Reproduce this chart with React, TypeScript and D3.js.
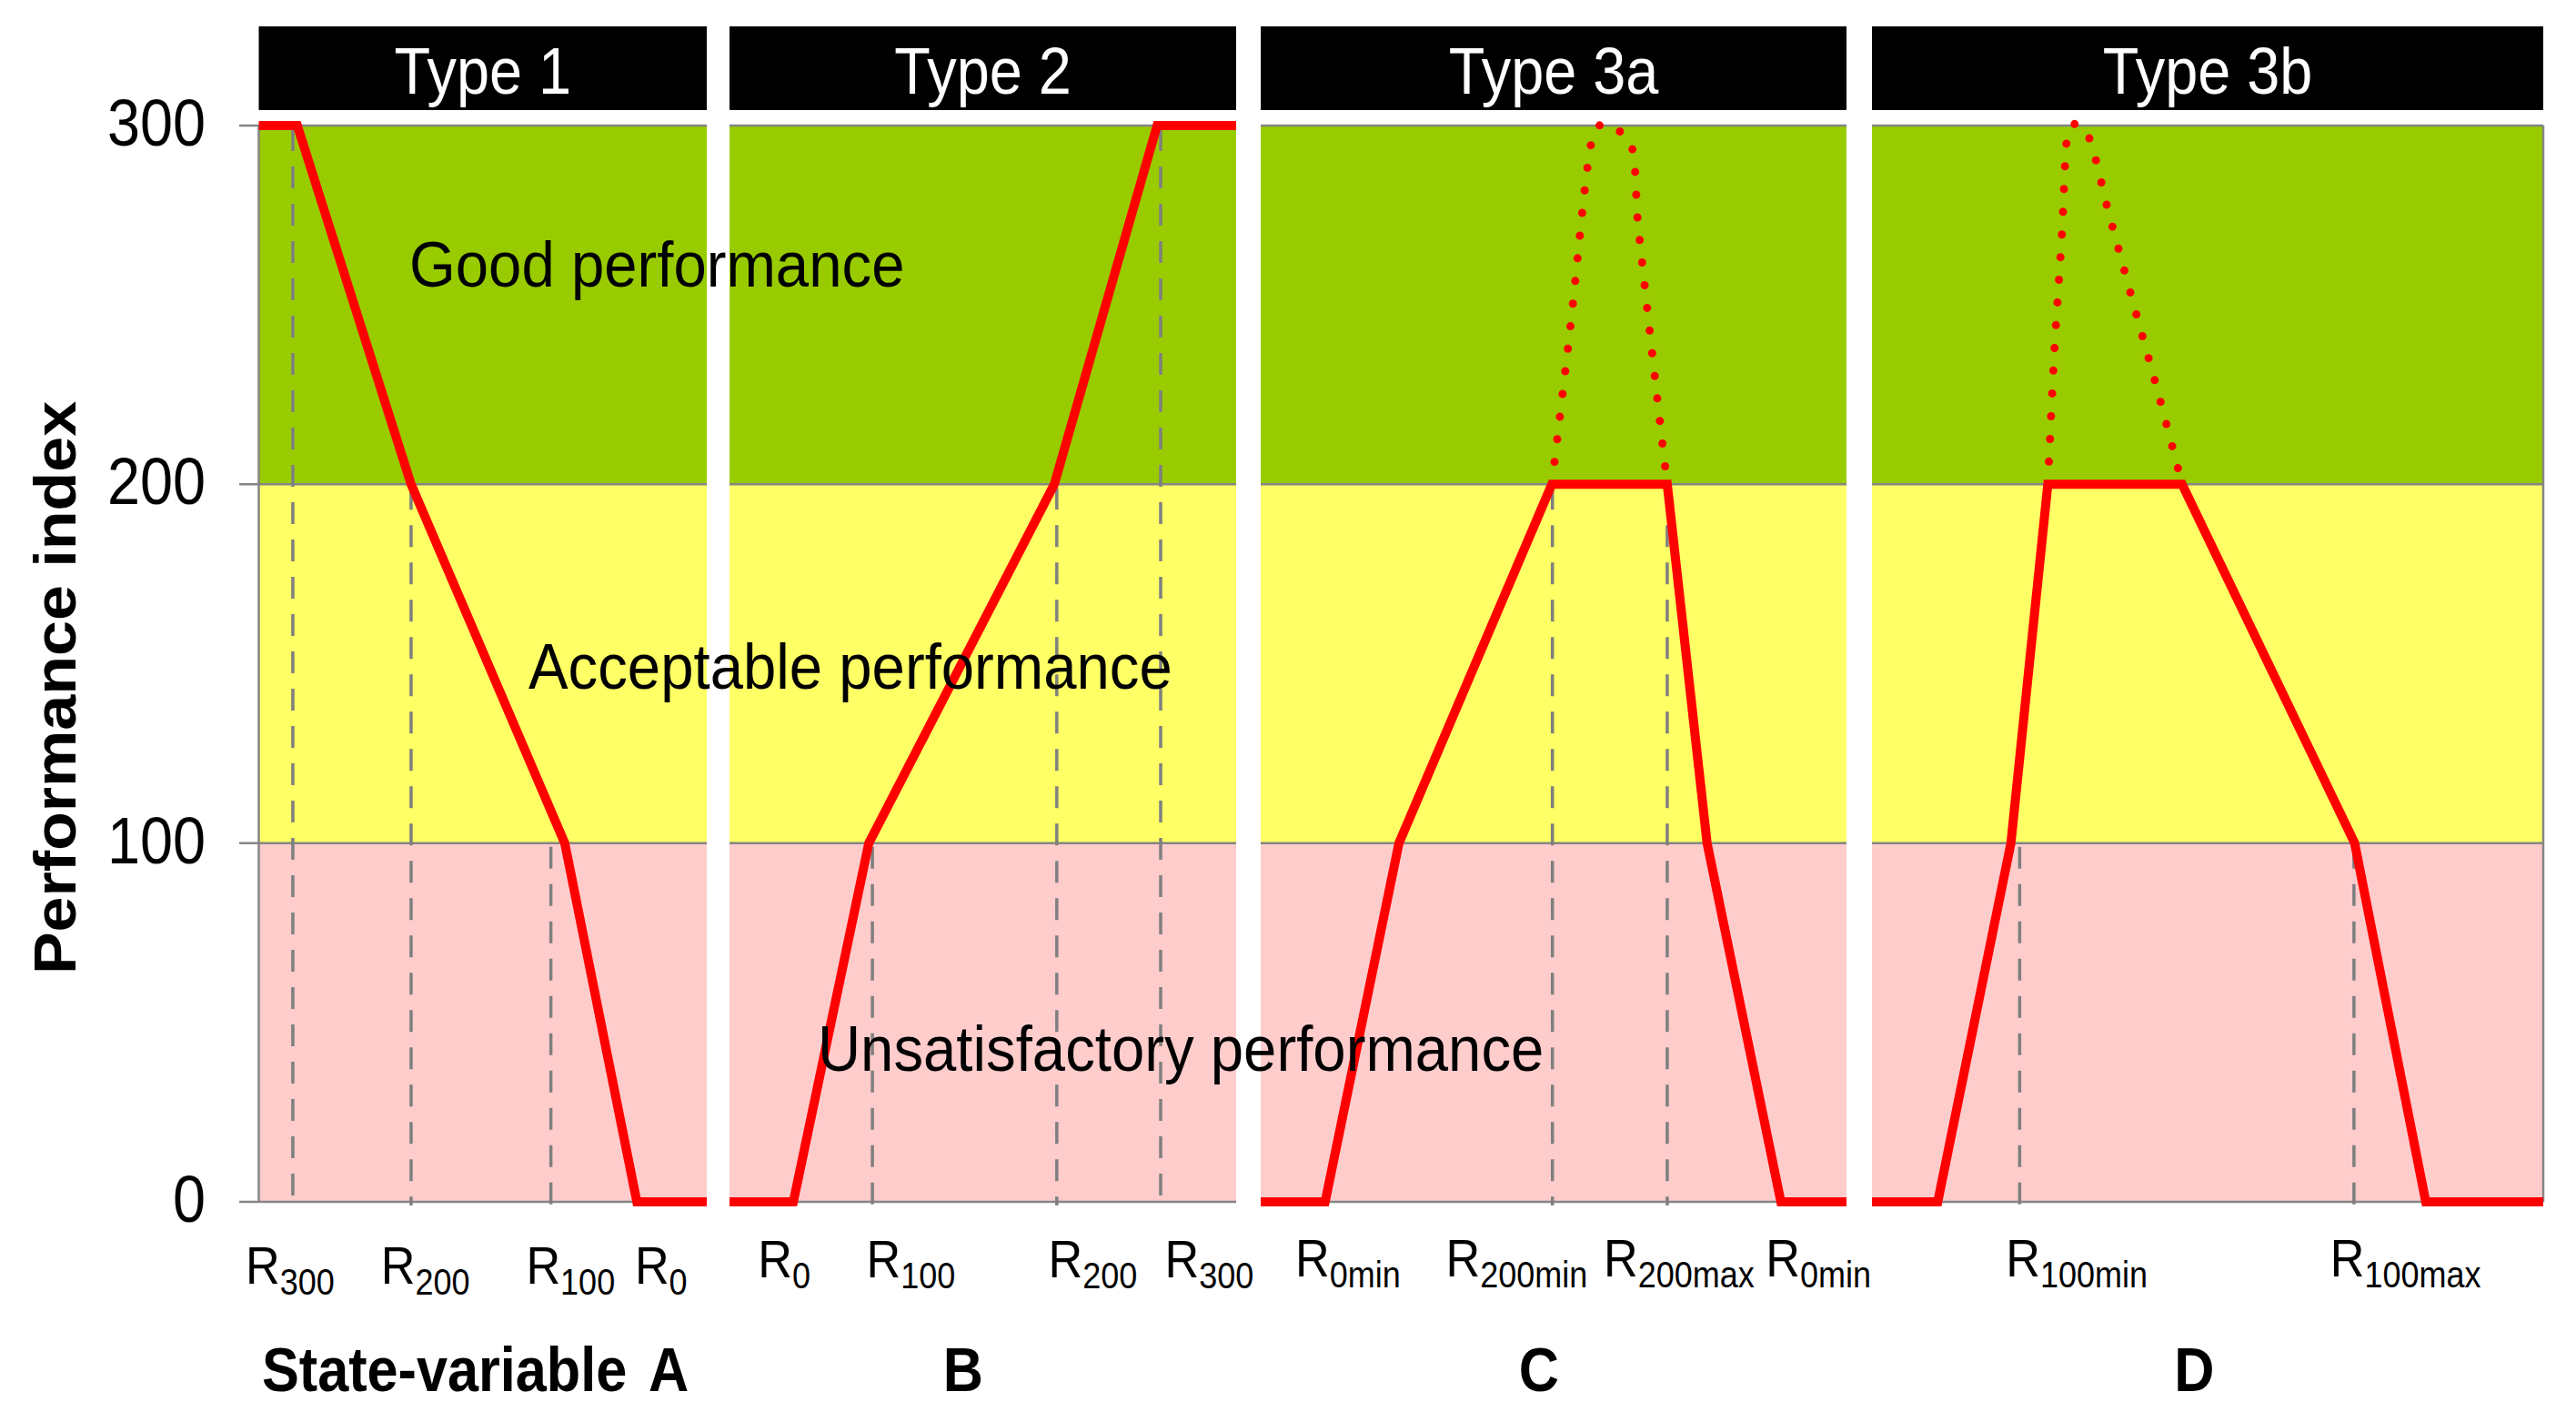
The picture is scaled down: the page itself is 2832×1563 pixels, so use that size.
import React from "react";
import * as d3 from "d3";

// ---------- data ----------
const yTicks = [0, 100, 200, 300];
const bands = [
  { from: 200, to: 300, color: "#99CC00" },
  { from: 100, to: 200, color: "#FFFF66" },
  { from: 0, to: 100, color: "#FFCCCC" },
];
const panelTitles = ["Type 1", "Type 2", "Type 3a", "Type 3b"];
const stateLetters = ["A", "B", "C", "D"];
const letterPos = [91.5, 46.1, 47.5, 48.0];

// response curves: [state-variable position (0-100 within panel), performance index]
const curve1: [number, number][] = [[0, 300], [8.6, 300], [34.0, 200], [68.3, 100], [84.4, 0], [100, 0]];
const curve2: [number, number][] = [[0, 0], [12.6, 0], [27.5, 100], [64.1, 200], [84.4, 300], [100, 300]];
const curve3: [number, number][] = [[0, 0], [11.0, 0], [23.6, 100], [49.7, 200], [69.4, 200], [76.2, 100], [88.8, 0], [100, 0]];
const curve4: [number, number][] = [[0, 0], [9.8, 0], [20.7, 100], [26.2, 200], [46.2, 200], [71.9, 100], [82.5, 0], [100, 0]];

// dotted extrapolations
const dotted3: [number, number][] = [[49.7, 200], [52.8, 243], [56.2, 293], [57.1, 299], [58.8, 300.5], [60.6, 299], [62.9, 296], [64.5, 271], [67.9, 221], [69.4, 200]];
const dotted4: [number, number][] = [[26.2, 200], [27.2, 238], [28.3, 270], [28.9, 293], [29.3, 299], [30.4, 300.5], [31.7, 299], [35.5, 274], [39.0, 250], [42.7, 225], [46.2, 200]];

// dashed reference verticals: [position, level]
const guides1: [number, number][] = [[7.6, 300], [34.0, 200], [65.2, 100]];
const guides2: [number, number][] = [[28.2, 100], [64.6, 200], [85.1, 300]];
const guides3: [number, number][] = [[49.8, 200], [69.4, 200]];
const guides4: [number, number][] = [[22.0, 100], [71.8, 100]];

// x tick labels (R with subscript)
const ticks1 = [{ sub: "300", x: 7.0 }, { sub: "200", x: 37.2 }, { sub: "100", x: 69.6 }, { sub: "0", x: 89.8 }];
const ticks2 = [{ sub: "0", x: 10.8 }, { sub: "100", x: 35.8 }, { sub: "200", x: 71.7 }, { sub: "300", x: 94.7 }];
const ticks3 = [{ sub: "0min", x: 14.9 }, { sub: "200min", x: 43.7 }, { sub: "200max", x: 71.4 }, { sub: "0min", x: 95.2 }];
const ticks4 = [{ sub: "100min", x: 30.5 }, { sub: "100max", x: 79.5 }];

// zone annotations: panel index, x position in that panel, performance level of baseline
const zoneLabels = [
  { text: "Good performance", panel: 0, x: 33.6, y: 255 },
  { text: "Acceptable performance", panel: 0, x: 60.2, y: 143 },
  { text: "Unsatisfactory performance", panel: 1, x: 17.4, y: 36.5 },
];

const curves = [curve1, curve2, curve3, curve4];
const dotted: ([number, number][] | null)[] = [null, null, dotted3, dotted4];
const guides = [guides1, guides2, guides3, guides4];
const xTicks = [ticks1, ticks2, ticks3, ticks4];

// ---------- layout ----------
const W = 2832;
const H = 1563;
const panelRanges: [number, number][] = [[284.5, 777], [802, 1359], [1386, 2030], [2058, 2796]];
const tickLabelY = [1411, 1404, 1403, 1403];
const FONT = "'Liberation Sans', Arial, sans-serif";
const SX = 0.9;

const y = d3.scaleLinear().domain([0, 300]).range([1321, 138]);
const grey = "#858585";

export default function App() {
  const xs = panelRanges.map((r) => d3.scaleLinear().domain([0, 100]).range(r));

  return (
    <svg
      width={W}
      height={H}
      style={{ position: "absolute", left: 0, top: 0, background: "#fff" }}
      fontFamily={FONT}
    >
      <rect x={0} y={0} width={W} height={H} fill="#fff" />
      {xs.map((x, i) => {
        const line = d3.line<[number, number]>().x((d) => x(d[0])).y((d) => y(d[1]));
        const dotLine = d3
          .line<[number, number]>()
          .x((d) => x(d[0]))
          .y((d) => y(d[1]))
          .curve(d3.curveCatmullRom.alpha(0.5));
        const [x0, x1] = x.range();
        return (
          <g key={i}>
            {/* header */}
            <rect x={x0} y={29} width={x1 - x0} height={92} fill="#000" />
            <text
              transform={`translate(${(x0 + x1) / 2},103) scale(${SX},1)`}
              textAnchor="middle"
              fontSize={72}
              fill="#fff"
            >
              {panelTitles[i]}
            </text>
            {/* bands */}
            {bands.map((b) => (
              <rect key={b.from} x={x0} y={y(b.to)} width={x1 - x0} height={y(b.from) - y(b.to)} fill={b.color} />
            ))}
            {/* gridlines */}
            {yTicks.map((t) => (
              <line key={t} x1={i === 0 ? 263 : x0} x2={x1} y1={y(t)} y2={y(t)} stroke={grey} strokeWidth={2.5} />
            ))}
            {i === 0 && <line x1={x0} x2={x0} y1={y(300)} y2={y(0)} stroke={grey} strokeWidth={2.5} />}
            {i === 3 && <line x1={x1} x2={x1} y1={y(300)} y2={y(0)} stroke={grey} strokeWidth={2.5} />}
            {/* dashed guides */}
            {guides[i].map((g, k) => (
              <line
                key={k}
                x1={x(g[0])}
                x2={x(g[0])}
                y1={y(g[1]) + 4}
                y2={y(0) + 4}
                stroke="#7f7f7f"
                strokeWidth={3.5}
                strokeDasharray="24 17"
              />
            ))}
            {/* dotted extrapolation */}
            {dotted[i] && (
              <path
                d={dotLine(dotted[i] as [number, number][]) || ""}
                fill="none"
                stroke="#FF0000"
                strokeWidth={9}
                strokeLinecap="round"
                strokeDasharray="0 25"
              />
            )}
            {/* response curve */}
            <path d={line(curves[i]) || ""} fill="none" stroke="#FF0000" strokeWidth={10} strokeLinejoin="miter" />
            {/* x tick labels */}
            {xTicks[i].map((t, k) => (
              <text
                key={k}
                transform={`translate(${x(t.x)},${tickLabelY[i]}) scale(${SX},1)`}
                textAnchor="middle"
                fontSize={58}
                fill="#000"
              >
                <tspan>R</tspan>
                <tspan fontSize={40} dy={12}>
                  {t.sub}
                </tspan>
              </text>
            ))}
            {/* state variable letters */}
            <text
              transform={`translate(${x(letterPos[i])},1529) scale(${SX},1)`}
              textAnchor="middle"
              fontSize={68}
              fontWeight="bold"
              fill="#000"
            >
              {stateLetters[i]}
            </text>
          </g>
        );
      })}

      {/* y tick labels */}
      {yTicks.map((t) => (
        <text
          key={t}
          transform={`translate(226,${y(t) + 22}) scale(${SX},1)`}
          textAnchor="end"
          fontSize={72}
          fill="#000"
        >
          {t}
        </text>
      ))}

      {/* y axis title */}
      <text
        transform={`translate(83,756) rotate(-90) scale(1,0.92)`}
        textAnchor="middle"
        fontSize={70}
        fontWeight="bold"
        fill="#000"
      >
        Performance index
      </text>

      {/* state-variable caption */}
      <text
        transform={`translate(${xs[0](0.7)},1529) scale(${SX},1)`}
        textAnchor="start"
        fontSize={68}
        fontWeight="bold"
        fill="#000"
      >
        State-variable
      </text>

      {/* zone labels */}
      {zoneLabels.map((z) => (
        <text
          key={z.text}
          transform={`translate(${xs[z.panel](z.x)},${y(z.y)}) scale(0.92,1)`}
          textAnchor="start"
          fontSize={71}
          fill="#000"
        >
          {z.text}
        </text>
      ))}
    </svg>
  );
}
